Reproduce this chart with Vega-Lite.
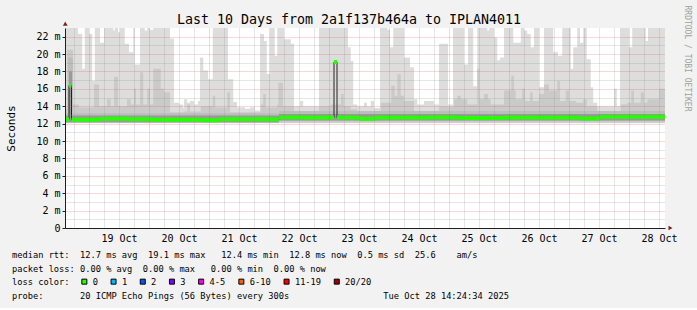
{
  "$schema": "https://vega.github.io/schema/vega-lite/v6.json",
  "background": "#f2f2f2",
  "padding": {"left": 5, "right": 6, "top": 5, "bottom": 5},
  "config": {
    "font": "DejaVu Sans Mono",
    "view": {"stroke": null},
    "axis": {"labelFont": "DejaVu Sans Mono", "titleFont": "DejaVu Sans Mono", "labelColor": "#000000", "titleColor": "#000000", "titleFontWeight": "normal"},
    "text": {"font": "DejaVu Sans Mono"}
  },
  "spacing": 5,
  "datasets": {
    "smokeMax": [
      {"h":14.4,"v":23},{"h":19.6,"v":22.3},{"h":21.3,"v":18.3},{"h":22.3,"v":23},{"h":24.0,"v":22.3},{"h":25.3,"v":16.9},{"h":26.3,"v":23},{"h":28.4,"v":21.3},{"h":30.0,"v":23},{"h":33.7,"v":22.7},{"h":34.3,"v":23},{"h":35.6,"v":22.5},{"h":36.4,"v":23},{"h":38.3,"v":21.2},{"h":40.0,"v":20.2},{"h":41.7,"v":23},{"h":42.3,"v":18.8},{"h":44.4,"v":23},{"h":46.3,"v":22.7},{"h":47.3,"v":23},{"h":48.4,"v":22.8},{"h":49.7,"v":23},{"h":56.4,"v":21.8},{"h":58.0,"v":14.4},{"h":60.0,"v":14.2},{"h":61.7,"v":13.8},{"h":62.0,"v":14.8},{"h":63.3,"v":14.4},{"h":64.4,"v":14.6},{"h":66.0,"v":14.2},{"h":67.6,"v":14.6},{"h":68.4,"v":19.6},{"h":69.7,"v":18.1},{"h":71.6,"v":17.1},{"h":73.5,"v":23},{"h":79.6,"v":17.1},{"h":81.7,"v":14.5},{"h":83.2,"v":13.9},{"h":86.4,"v":13.7},{"h":88.4,"v":13.9},{"h":90.4,"v":13.5},{"h":92.4,"v":22.3},{"h":94.0,"v":21.5},{"h":95.1,"v":17.7},{"h":96.4,"v":23},{"h":98.3,"v":19.8},{"h":99.3,"v":23},{"h":102.0,"v":21.7},{"h":104.7,"v":21.2},{"h":106.0,"v":14.0},{"h":108.4,"v":14.6},{"h":109.7,"v":14.0},{"h":116.0,"v":23},{"h":127.6,"v":20.8},{"h":128.7,"v":19.2},{"h":129.7,"v":14.2},{"h":131.3,"v":14.0},{"h":134.0,"v":14.4},{"h":135.2,"v":14.0},{"h":136.7,"v":14.6},{"h":138.0,"v":13.8},{"h":140.4,"v":23},{"h":143.3,"v":22.8},{"h":144.4,"v":20.8},{"h":145.7,"v":23},{"h":150.0,"v":19.6},{"h":152.4,"v":18.5},{"h":154.0,"v":14.8},{"h":155.3,"v":14.2},{"h":158.0,"v":14.6},{"h":162.0,"v":14.2},{"h":164.0,"v":21.2},{"h":167.6,"v":14.2},{"h":169.6,"v":23},{"h":174.0,"v":18.8},{"h":175.6,"v":23},{"h":177.7,"v":16.3},{"h":179.3,"v":23},{"h":183.3,"v":22.7},{"h":184.1,"v":23},{"h":186.0,"v":21.9},{"h":187.3,"v":19.3},{"h":188.4,"v":19.6},{"h":190.0,"v":23},{"h":193.7,"v":21.3},{"h":196.7,"v":23},{"h":198.0,"v":22.7},{"h":199.3,"v":22.3},{"h":200.7,"v":20.8},{"h":202.0,"v":23},{"h":204.0,"v":16.2},{"h":206.0,"v":23},{"h":209.7,"v":20.2},{"h":211.6,"v":19.8},{"h":213.3,"v":23},{"h":216.7,"v":18.3},{"h":217.7,"v":20.8},{"h":219.3,"v":23},{"h":220.4,"v":21.3},{"h":221.7,"v":23},{"h":223.1,"v":19.4},{"h":224.7,"v":16.2},{"h":225.7,"v":14.4},{"h":227.3,"v":14.0},{"h":234.0,"v":16.0},{"h":235.1,"v":14.0},{"h":236.4,"v":23},{"h":240.0,"v":20.8},{"h":241.3,"v":23},{"h":246.7,"v":21.5},{"h":247.6,"v":23},{"h":254.4,"v":23}
    ],
    "smokeMid": [
      {"h":14.4,"v":13.8},{"h":15.2,"v":20.5},{"h":17.6,"v":14.2},{"h":20.0,"v":13.85},{"h":26.0,"v":16.5},{"h":28.0,"v":14.0},{"h":31.2,"v":14.8},{"h":32.7,"v":14.0},{"h":34.0,"v":17.4},{"h":35.6,"v":14.0},{"h":39.2,"v":14.8},{"h":40.7,"v":14.2},{"h":42.0,"v":16.0},{"h":42.8,"v":14.2},{"h":44.4,"v":17.9},{"h":45.7,"v":14.2},{"h":47.3,"v":16.0},{"h":48.4,"v":14.2},{"h":49.7,"v":18.3},{"h":52.7,"v":16.0},{"h":54.0,"v":15.6},{"h":56.4,"v":13.3},{"h":62.0,"v":13.4},{"h":63.3,"v":14.2},{"h":64.4,"v":13.4},{"h":68.7,"v":14.0},{"h":73.5,"v":15.2},{"h":74.5,"v":13.85},{"h":79.3,"v":15.6},{"h":80.4,"v":13.3},{"h":92.7,"v":14.2},{"h":93.7,"v":15.4},{"h":94.7,"v":13.85},{"h":99.3,"v":14.2},{"h":99.7,"v":16.7},{"h":101.6,"v":14.0},{"h":106.0,"v":13.4},{"h":116.0,"v":14.0},{"h":120.7,"v":14.2},{"h":124.8,"v":15.4},{"h":125.9,"v":14.0},{"h":128.7,"v":13.65},{"h":131.3,"v":13.3},{"h":140.7,"v":14.4},{"h":144.9,"v":16.35},{"h":146.3,"v":15.2},{"h":147.3,"v":17.7},{"h":148.7,"v":15.2},{"h":150.0,"v":14.6},{"h":154.0,"v":13.4},{"h":164.0,"v":14.0},{"h":167.6,"v":13.9},{"h":169.6,"v":14.0},{"h":170.0,"v":14.8},{"h":171.3,"v":15.2},{"h":172.7,"v":14.8},{"h":175.3,"v":14.2},{"h":179.3,"v":18.3},{"h":180.2,"v":14.8},{"h":182.0,"v":15.4},{"h":183.6,"v":14.8},{"h":184.7,"v":14.2},{"h":190.0,"v":15.8},{"h":192.9,"v":17.5},{"h":194.0,"v":15.8},{"h":194.7,"v":14.8},{"h":197.3,"v":16.0},{"h":198.4,"v":14.6},{"h":200.4,"v":15.6},{"h":201.5,"v":14.6},{"h":204.0,"v":15.4},{"h":206.0,"v":16.5},{"h":208.0,"v":15.8},{"h":211.3,"v":16.9},{"h":212.4,"v":14.6},{"h":214.7,"v":15.8},{"h":216.0,"v":14.6},{"h":218.7,"v":14.4},{"h":221.7,"v":14.8},{"h":223.1,"v":14.0},{"h":227.3,"v":13.3},{"h":236.7,"v":14.2},{"h":239.3,"v":14.4},{"h":240.9,"v":15.8},{"h":242.0,"v":14.4},{"h":244.7,"v":15.6},{"h":246.0,"v":14.4},{"h":247.3,"v":14.8},{"h":252.0,"v":16.0},{"h":254.4,"v":16.0}
    ],
    "smokeInner": [
      {"h":14.4,"lo":12.1,"hi":13.2},{"h":15.6,"lo":12.1,"hi":19.6},{"h":17.6,"lo":12.1,"hi":13.2},{"h":100.0,"lo":12.3,"hi":13.45},{"h":254.4,"lo":12.3,"hi":13.45}
    ],
    "smokeCore": [
      {"h":14.4,"lo":12.15,"hi":12.9},{"h":16.0,"lo":12.15,"hi":18.0},{"h":17.2,"lo":12.15,"hi":12.9},{"h":100.0,"lo":12.35,"hi":13.1},{"h":254.4,"lo":12.35,"hi":13.1}
    ],
    "median": [
      {"h":14.4,"v":12.5},{"h":16.0,"v":16.4},{"h":17.0,"v":12.45},{"h":28.0,"v":12.55},{"h":40.0,"v":12.5},{"h":50.0,"v":12.45},{"h":70.0,"v":12.4},{"h":76.0,"v":12.5},{"h":100.0,"v":12.75},{"h":110.0,"v":12.7},{"h":122.0,"v":19.1},{"h":123.2,"v":12.7},{"h":132.4,"v":12.55},{"h":138.4,"v":12.7},{"h":160.0,"v":12.75},{"h":172.0,"v":12.65},{"h":190.0,"v":12.7},{"h":220.4,"v":12.6},{"h":228.4,"v":12.8},{"h":254.4,"v":12.8}
    ],
    "legendLines": [
      {"line":0,"txt":"median rtt:\u00a0\u00a012.7 ms avg\u00a0\u00a019.1 ms max\u00a0\u00a0\u00a012.4 ms min\u00a0\u00a012.8 ms now\u00a0\u00a00.5 ms sd\u00a0\u00a025.6\u00a0\u00a0\u00a0\u00a0am/s"},
      {"line":1,"txt":"packet loss: 0.00 % avg\u00a0\u00a00.00 % max\u00a0\u00a0\u00a00.00 % min\u00a0\u00a00.00 % now"},
      {"line":3,"txt":"probe:\u00a0\u00a0\u00a0\u00a0\u00a0\u00a0\u00a020 ICMP Echo Pings (56 Bytes) every 300s\u00a0\u00a0\u00a0\u00a0\u00a0\u00a0\u00a0\u00a0\u00a0\u00a0\u00a0\u00a0\u00a0\u00a0\u00a0\u00a0\u00a0\u00a0Tue Oct 28 14:24:34 2025"}
    ],
    "lossLevels": [
      {"loss":"0"},{"loss":"1"},{"loss":"2"},{"loss":"3"},{"loss":"4-5"},{"loss":"6-10"},{"loss":"11-19"},{"loss":"20/20"}
    ]
  },
  "vconcat": [
    {
      "width": 600,
      "height": 200,
      "view": {"fill": "#ffffff", "stroke": null},
      "resolve": {"axis": {"x": "independent", "y": "independent"}},
      "layer": [
        {
          "data": {"name": "smokeMax"},
          "mark": {"type": "area", "interpolate": "step-after", "color": "#dddddd"},
          "encoding": {
            "x": {"field": "h", "type": "quantitative", "scale": {"domain": [14.4, 254.4], "nice": false, "zero": false},
                  "axis": {"orient": "bottom", "values": [36,60,84,108,132,156,180,204,228,252], "labelExpr": "(18 + floor(datum.value / 24)) + ' Oct'", "grid": false, "ticks": false, "tickSize": 0, "labelPadding": 5, "labelFontSize": 10, "labelFlush": false, "labelOverlap": false, "labelBound": false, "domain": true, "domainColor": "#1f1f1f", "title": null, "zindex": 1}},
            "y": {"field": "v", "type": "quantitative", "scale": {"domain": [0, 23], "nice": false, "zero": true},
                  "axis": {"orient": "left", "values": [0,2,4,6,8,10,12,14,16,18,20,22], "labelExpr": "datum.value == 0 ? '0' : datum.value + ' m'", "grid": true, "gridColor": "#de4f4f", "gridOpacity": 0.45, "gridDash": [1,1], "ticks": true, "tickSize": 3, "tickColor": "#1f1f1f", "labelPadding": 2, "labelFontSize": 10, "labelOverlap": false, "labelFlush": false, "domainColor": "#1f1f1f", "title": "Seconds", "titleFontSize": 11, "titlePadding": 19, "zindex": 1}},
            "y2": {"datum": 12.05}
          }
        },
        {
          "data": {"name": "smokeMid"},
          "mark": {"type": "area", "interpolate": "step-after", "color": "#cacaca"},
          "encoding": {
            "x": {"field": "h", "type": "quantitative", "scale": {"domain": [14.4, 254.4], "nice": false, "zero": false},
                  "axis": {"orient": "bottom", "values": [24,48,72,96,120,144,168,192,216,240], "grid": true, "gridColor": "#de4f4f", "gridOpacity": 0.45, "gridDash": [1,1], "labels": false, "ticks": false, "domain": false, "title": null, "zindex": 1}},
            "y": {"field": "v", "type": "quantitative", "scale": {"domain": [0, 23], "nice": false, "zero": true},
                  "axis": {"orient": "left", "values": [1,3,5,7,9,11,13,15,17,19,21], "grid": true, "gridColor": "#8f8f8f", "gridOpacity": 0.45, "gridDash": [1,1], "labels": false, "ticks": false, "domain": false, "title": null, "zindex": 1}},
            "y2": {"datum": 12.1}
          }
        },
        {
          "data": {"name": "smokeInner"},
          "mark": {"type": "area", "interpolate": "step-after", "color": "#bdbdbd"},
          "encoding": {
            "x": {"field": "h", "type": "quantitative", "scale": {"domain": [14.4, 254.4], "nice": false, "zero": false},
                  "axis": {"orient": "bottom", "values": [18,30,36,42,54,60,66,78,84,90,102,108,114,126,132,138,150,156,162,174,180,186,198,204,210,222,228,234,246,252], "grid": true, "gridColor": "#8f8f8f", "gridOpacity": 0.45, "gridDash": [1,1], "labels": false, "ticks": false, "domain": false, "title": null, "zindex": 1}},
            "y": {"field": "hi", "type": "quantitative", "scale": {"domain": [0, 23], "nice": false, "zero": true},
                  "axis": {"orient": "right", "labels": false, "ticks": false, "domain": false, "grid": false, "title": "RRDTOOL / TOBI OETIKER", "titleFontSize": 8, "titleColor": "#a0a0a0", "titleAngle": 90, "titleAlign": "left", "titleBaseline": "middle", "titleX": 21.5, "titleY": -23}},
            "y2": {"field": "lo"}
          }
        },
        {
          "data": {"name": "smokeCore"},
          "mark": {"type": "area", "interpolate": "step-after", "color": "#9a9a9a"},
          "encoding": {
            "x": {"field": "h", "type": "quantitative", "scale": {"domain": [14.4, 254.4], "nice": false, "zero": false},
                  "axis": {"orient": "top", "labels": false, "ticks": false, "domain": false, "grid": false, "title": "Last 10 Days from 2a1f137b464a to IPLAN4011", "titleFontSize": 13.3, "titleFontWeight": "normal", "titleColor": "#000000", "titleX": 283.5, "titleY": -8.6, "titleAlign": "center", "titleBaseline": "middle", "titleAngle": 0}},
            "y": {"field": "hi", "type": "quantitative", "axis": null},
            "y2": {"field": "lo"}
          }
        },
        {
          "data": {"name": "median"},
          "mark": {"type": "line", "interpolate": "step-after", "color": "#202020", "strokeWidth": 1},
          "encoding": {
            "x": {"field": "h", "type": "quantitative", "axis": null},
            "y": {"field": "v", "type": "quantitative", "axis": null}
          }
        },
        {
          "data": {"name": "median"},
          "mark": {"type": "area", "interpolate": "step-after", "color": "#26ff00", "yOffset": -2, "y2Offset": 2},
          "encoding": {
            "x": {"field": "h", "type": "quantitative", "axis": null},
            "y": {"field": "v", "type": "quantitative", "axis": null},
            "y2": {"field": "v"}
          }
        },
        {
          "data": {"values": [{}]},
          "mark": {"type": "point", "shape": "triangle-right", "filled": true, "size": 22, "color": "#7f1f1f", "opacity": 1},
          "encoding": {
            "x": {"datum": 256.6, "type": "quantitative", "axis": null},
            "y": {"datum": 0, "type": "quantitative", "axis": null}
          }
        },
        {
          "data": {"values": [{}]},
          "mark": {"type": "point", "shape": "triangle-up", "filled": true, "size": 22, "color": "#7f1f1f", "opacity": 1},
          "encoding": {
            "x": {"datum": 14.5, "type": "quantitative", "axis": null},
            "y": {"datum": 23.5, "type": "quantitative", "axis": null}
          }
        }
      ]
    },
    {
      "width": 522,
      "height": 55,
      "view": {"stroke": null},
      "layer": [
        {
          "data": {"name": "legendLines"},
          "mark": {"type": "text", "align": "left", "baseline": "middle", "fontSize": 8.7, "color": "#000000"},
          "encoding": {
            "x": {"datum": 0, "type": "quantitative", "scale": {"domain": [10.15, 110.15], "nice": false, "zero": false}, "axis": null},
            "y": {"field": "line", "type": "quantitative", "scale": {"domain": [-0.5, 3.5], "reverse": true, "nice": false, "zero": false}, "axis": null},
            "text": {"field": "txt"}
          }
        },
        {
          "data": {"name": "lossLevels"},
          "mark": {"type": "square", "size": 25, "opacity": 0},
          "encoding": {
            "x": {"datum": 0, "type": "quantitative", "scale": {"domain": [10.15, 110.15], "nice": false, "zero": false}, "axis": null},
            "y": {"datum": 2, "type": "quantitative", "scale": {"domain": [-0.5, 3.5], "reverse": true, "nice": false, "zero": false}, "axis": null},
            "fill": {"field": "loss", "type": "nominal",
              "scale": {"domain": ["0","1","2","3","4-5","6-10","11-19","20/20"], "range": ["#26ff00","#00b8ff","#0059ff","#7e00ff","#ff00ea","#ff5e00","#ff0000","#a10000"]},
              "legend": {"orient": "none", "legendX": -53, "legendY": 249.3, "direction": "horizontal", "columns": 8, "gridAlign": "none", "title": "loss color:", "titleOrient": "left", "titleFont": "DejaVu Sans Mono", "titleFontSize": 8.7, "titleFontWeight": "normal", "titleColor": "#000000", "titlePadding": 10, "symbolType": "square", "symbolSize": 25, "symbolStrokeColor": "#000000", "symbolStrokeWidth": 1, "symbolOpacity": 1, "labelFont": "DejaVu Sans Mono", "labelFontSize": 8.7, "labelColor": "#000000", "labelOffset": 4, "columnPadding": 10.2, "rowPadding": 0, "padding": 0, "labelLimit": 100}}
          }
        }
      ]
    }
  ]
}
